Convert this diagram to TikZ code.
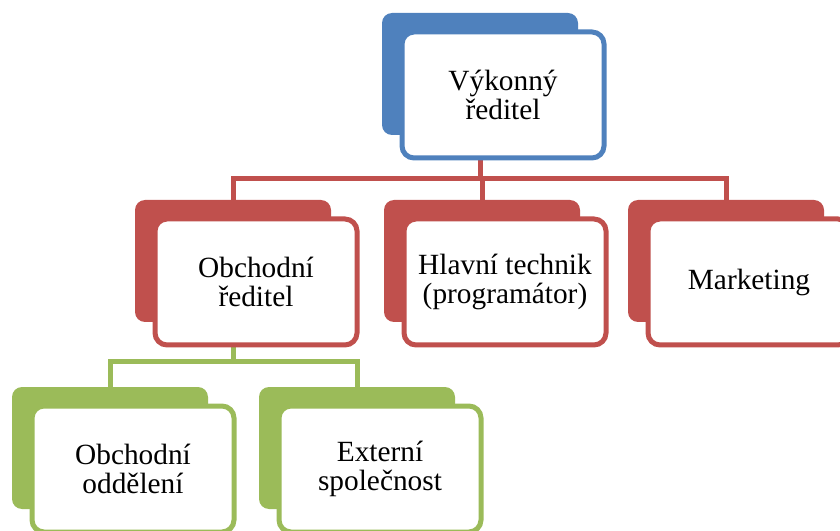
\documentclass[tikz,border=0pt]{standalone}
\usepackage{fontspec}
\setmainfont{Liberation Serif}
\usetikzlibrary{backgrounds}
\definecolor{cblue}{HTML}{4F81BD}
\definecolor{cred}{HTML}{C0504D}
\definecolor{cgreen}{HTML}{9BBB59}
\tikzset{
 backbox/.style={rectangle, rounded corners=7.5pt, fill=#1, minimum width=147pt, minimum height=91.5pt, inner sep=0pt, outer sep=0pt, anchor=north west},
 frontbox/.style={rectangle, rounded corners=9pt, draw=#1, fill=white, line width=3.75pt, minimum width=151.5pt, minimum height=94.5pt, inner sep=0pt, outer sep=0pt, anchor=north west, align=center, font=\fontsize{22}{22}\selectfont},
 conn/.style={draw=#1, line width=3.75pt}
}
\begin{document}
\begin{tikzpicture}[x=0.75pt,y=-0.75pt]
\useasboundingbox (0,0) rectangle (840,531);
\clip (0,0) rectangle (840,531);
% top
\node[backbox=cblue] (tb) at (382,13) {};
\node[frontbox=cblue] (tf) at (402,32) {Výkonný\\ředitel};
% row 2
\node[backbox=cred] (ob) at (135,200) {};
\node[frontbox=cred] (of) at (155,219) {Obchodní\\ředitel};
\node[backbox=cred] (hb) at (384,200) {};
\node[frontbox=cred] (hf) at (404,219) {Hlavní technik\\(programátor)};
\node[backbox=cred] (mb) at (628,200) {};
\node[frontbox=cred] (mf) at (648,219) {Marketing};
% row 3
\node[backbox=cgreen] (db) at (12,387) {};
\node[frontbox=cgreen] (df) at (32,406) {Obchodní\\oddělení};
\node[backbox=cgreen] (eb) at (259,387) {};
\node[frontbox=cgreen] (ef) at (279,406) {Externí\\společnost};
% connectors
\coordinate (rbus) at (0,179);
\coordinate (gbus) at (0,362);
\begin{scope}[on background layer]
\draw[conn=cred] (tb.south |- tf.south) -- (tb.south |- rbus) -| (ob.north);
\draw[conn=cred] (tb.south |- rbus) -| (mb.north);
\draw[conn=cred] (hb.north |- rbus) -- (hb.north);
\draw[conn=cgreen] (ob.south |- of.south) -- (ob.south |- gbus) -| (db.north);
\draw[conn=cgreen] (ob.south |- gbus) -| (eb.north);
\end{scope}
\end{tikzpicture}
\end{document}
